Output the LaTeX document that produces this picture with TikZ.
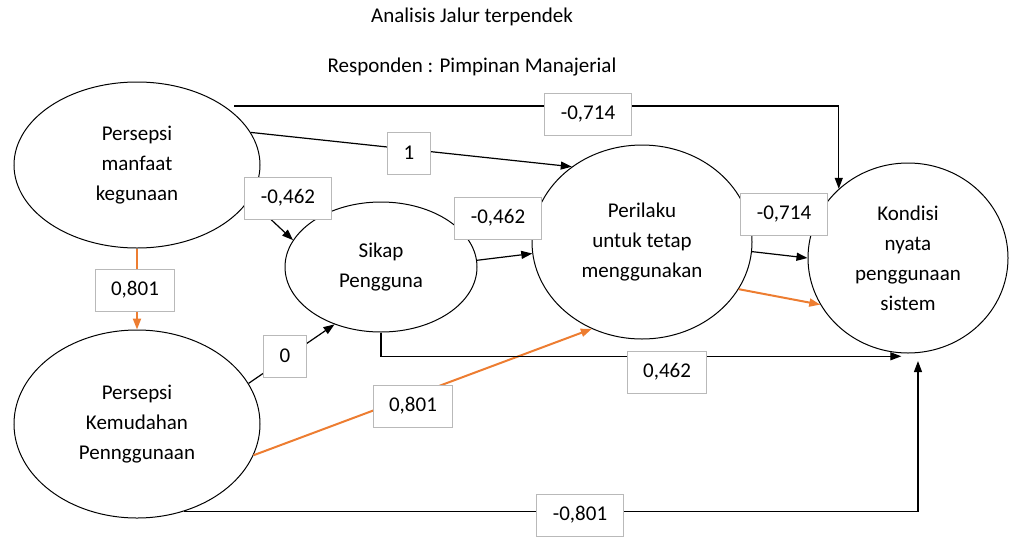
\documentclass[tikz,border=0pt]{standalone}
\usepackage{fontspec}
\setmainfont{Carlito}
\usetikzlibrary{shapes.geometric}
\usetikzlibrary{arrows.meta}

\definecolor{jalur}{RGB}{237,125,49}

\begin{document}
\begin{tikzpicture}[x=1pt, y=-1pt,
  every node/.style={font=\fontsize{21}{30}\selectfont},
  var/.style={draw, ellipse, inner sep=0pt, align=center, line width=1pt},
  lbl/.style={draw=gray!55, fill=white, inner xsep=16pt, inner ysep=0pt, minimum height=42pt, line width=1pt},
  edge/.style={-{Triangle[length=11pt,width=8pt]}, line width=1.2pt},
  oedge/.style={-{Triangle[length=11pt,width=8pt]}, line width=2pt, draw=jalur}]

\useasboundingbox (0,0) rectangle (1011,536);

\node (judul) at (472,17) {Analisis Jalur terpendek};
\node (resp) at (472,67) {Responden : Pimpinan Manajerial};

% variabel
\node[var, minimum width=246pt, minimum height=166pt] (manfaat) at (137,165) {Persepsi\\manfaat\\kegunaan};
\node[var, minimum width=246pt, minimum height=188pt] (mudah) at (137,424) {Persepsi\\Kemudahan\\Pennggunaan};
\node[var, minimum width=192pt, minimum height=130pt] (sikap) at (381,267) {Sikap\\Pengguna};
\node[var, minimum width=220pt, minimum height=194pt] (perilaku) at (642,242) {Perilaku\\untuk tetap\\menggunakan};
\node[var, minimum width=200pt, minimum height=190pt] (kondisi) at (908,258) {Kondisi\\nyata\\penggunaan\\sistem};

% jalur
\draw[edge] ([xshift=10pt]manfaat.north east) -| (kondisi.135);
\draw[edge] (manfaat.16) -- (perilaku.133);
\draw[edge] (manfaat.-17) -- (sikap.163);
\draw[edge] (sikap.4) -- (perilaku.186);
\draw[edge] (perilaku.-5) -- (kondisi.west);
\draw[oedge] (perilaku.-26) -- (kondisi.208);
\draw[oedge] (manfaat.south) -- (mudah.north);
\draw[edge] (mudah.20) -- (sikap.231);
\draw[oedge] (mudah.-15) -- (perilaku.240);
\draw[edge] (sikap.south) |- ([yshift=-3pt]kondisi.266);
\draw[edge] (mudah.-62) -| ([yshift=-8pt]kondisi.-84);

% koefisien
\node[lbl] (mk) at (588,114) {-0,714};
\node[lbl] (mp) at (409,153) {1};
\node[lbl] (ms) at (288,198) {-0,462};
\node[lbl] (sp) at (498,218) {-0,462};
\node[lbl] (pk) at (784,214) {-0,714};
\node[lbl] (mm) at (135,290) {0,801};
\node[lbl] (us) at (285,356) {0};
\node[lbl] (up) at (413,406) {0,801};
\node[lbl] (sk) at (667,372) {0,462};
\node[lbl] (uk) at (580,515) {-0,801};
\end{tikzpicture}
\end{document}
